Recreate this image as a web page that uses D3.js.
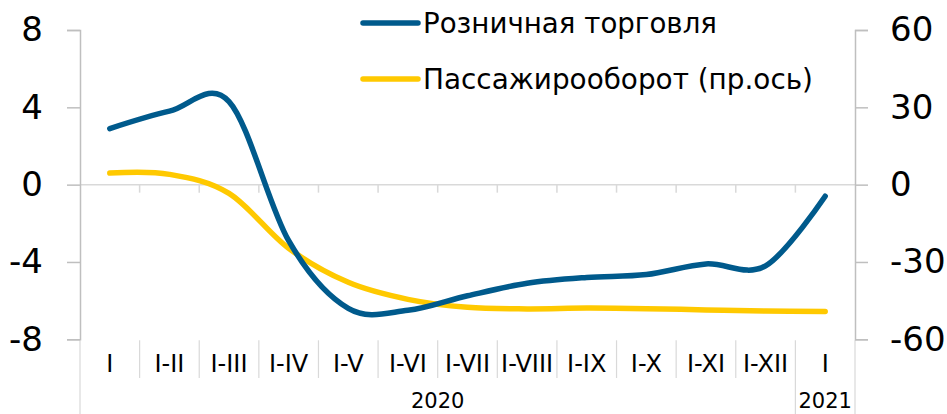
<!DOCTYPE html>
<html>
<head>
<meta charset="utf-8">
<script src="https://cdn.jsdelivr.net/npm/d3@7"></script>
<style>
  body { margin: 0; background: #fff; }
  svg text { font-family: Tahoma, "DejaVu Sans", sans-serif; fill: #000; }
</style>
</head>
<body>
<svg id="chart" width="947" height="414"></svg>
<script>
// categories along the x axis (cumulative months)
const categories = ["I", "I-II", "I-III", "I-IV", "I-V", "I-VI", "I-VII", "I-VIII", "I-IX", "I-X", "I-XI", "I-XII", "I"];
const yearGroups = [
  { label: "2020", first: 0, last: 11 },
  { label: "2021", first: 12, last: 12 }
];
// retail trade, left axis
const retail = [2.9, 3.8, 4.3, -2.9, -6.4, -6.5, -5.75, -5.1, -4.8, -4.65, -4.1, -4.2, -0.6];
// passenger turnover, right axis
const passenger = [4.5, 4.0, -3.4, -24.7, -37.9, -44.5, -47.6, -48.2, -47.9, -48.1, -48.6, -49.0, -49.2];
const leftTicks = [-8, -4, 0, 4, 8];
const rightTicks = [-60, -30, 0, 30, 60];
const seriesNames = ["Розничная торговля", "Пассажирооборот (пр.ось)"];

const svg = d3.select("#chart");
const plot = { left: 80, right: 855, top: 30, bottom: 339.3 };

const x = d3.scaleBand()
  .domain(d3.range(categories.length))
  .range([plot.left, plot.right])
  .paddingInner(0).paddingOuter(0);

const yL = d3.scaleLinear().domain([-8, 8]).range([plot.bottom, plot.top]);
const yR = d3.scaleLinear().domain([-60, 60]).range([plot.bottom, plot.top]);

const axisColor = "#bfbfbf";
const gridColor = "#d9d9d9";

// zero line
svg.append("line")
  .attr("x1", plot.left).attr("x2", plot.right)
  .attr("y1", yL(0)).attr("y2", yL(0))
  .attr("stroke", gridColor).attr("stroke-width", 1.5);

// small category ticks under zero line
svg.append("g").selectAll("line")
  .data(d3.range(1, categories.length))
  .join("line")
  .attr("x1", i => x(i)).attr("x2", i => x(i))
  .attr("y1", yL(0)).attr("y2", yL(0) + 8)
  .attr("stroke", gridColor).attr("stroke-width", 1.5);

// separators in the label area
svg.append("g").selectAll("line")
  .data(d3.range(0, categories.length + 1))
  .join("line")
  .attr("x1", i => x(i) !== undefined ? x(i) : plot.right)
  .attr("x2", i => x(i) !== undefined ? x(i) : plot.right)
  .attr("y1", plot.bottom + 1)
  .attr("y2", i => (i === 0 || i === 12 || i === 13) ? 414 : 378)
  .attr("stroke", gridColor).attr("stroke-width", 1.2);

// plain hyphen for negatives, like the original
const fmt = d => String(d);

// left axis
const leftAxis = d3.axisLeft(yL).tickValues(leftTicks).tickSize(13).tickPadding(24).tickFormat(fmt);
const gL = svg.append("g").attr("transform", `translate(${plot.left},0)`).call(leftAxis);
gL.select(".domain").attr("stroke", axisColor).attr("stroke-width", 1.5);
gL.selectAll(".tick line").attr("stroke", axisColor).attr("stroke-width", 1.5);
gL.selectAll(".tick text").attr("font-size", 34).attr("fill", "#000")
  .attr("font-family", "Tahoma, 'DejaVu Sans', sans-serif");

// right axis
const rightAxis = d3.axisRight(yR).tickValues(rightTicks).tickSize(13).tickPadding(22).tickFormat(fmt);
const gR = svg.append("g").attr("transform", `translate(${plot.right},0)`).call(rightAxis);
gR.select(".domain").attr("stroke", axisColor).attr("stroke-width", 1.5);
gR.selectAll(".tick line").attr("stroke", axisColor).attr("stroke-width", 1.5);
gR.selectAll(".tick text").attr("font-size", 34).attr("fill", "#000")
  .attr("font-family", "Tahoma, 'DejaVu Sans', sans-serif");

// category labels
svg.append("g").selectAll("text")
  .data(categories)
  .join("text")
  .attr("x", (d, i) => x(i) + x.bandwidth() / 2)
  .attr("y", 372)
  .attr("text-anchor", "middle")
  .attr("font-size", 24)
  .text(d => d);

// year labels
svg.append("g").selectAll("text")
  .data(yearGroups)
  .join("text")
  .attr("x", d => (x(d.first) + x(d.last) + x.bandwidth()) / 2)
  .attr("y", 408)
  .attr("text-anchor", "middle")
  .attr("font-size", 21)
  .text(d => d.label);

// lines
const curve = d3.curveCardinal.tension(0);
const lineL = d3.line().x((d, i) => x(i) + x.bandwidth() / 2).y(d => yL(d)).curve(curve);
const lineR = d3.line().x((d, i) => x(i) + x.bandwidth() / 2).y(d => yR(d)).curve(curve);
const colors = ["#005a8c", "#ffc900"];

svg.append("path").datum(passenger)
  .attr("d", lineR).attr("fill", "none")
  .attr("stroke", colors[1]).attr("stroke-width", 5.5)
  .attr("stroke-linecap", "round").attr("stroke-linejoin", "round");

svg.append("path").datum(retail)
  .attr("d", lineL).attr("fill", "none")
  .attr("stroke", colors[0]).attr("stroke-width", 5.5)
  .attr("stroke-linecap", "round").attr("stroke-linejoin", "round");

// legend
const legendWidths = [294, 390];
const legend = svg.append("g").selectAll("g")
  .data(seriesNames)
  .join("g")
  .attr("transform", (d, i) => `translate(363, ${23 + i * 56})`);

legend.append("line")
  .attr("x1", 0).attr("x2", 55)
  .attr("stroke", (d, i) => colors[i]).attr("stroke-width", 5.5)
  .attr("stroke-linecap", "round");

legend.append("text")
  .attr("x", 60)
  .attr("dy", "0.35em")
  .attr("font-size", 29)
  .attr("textLength", (d, i) => legendWidths[i])
  .attr("lengthAdjust", "spacingAndGlyphs")
  .text(d => d);
</script>
</body>
</html>
